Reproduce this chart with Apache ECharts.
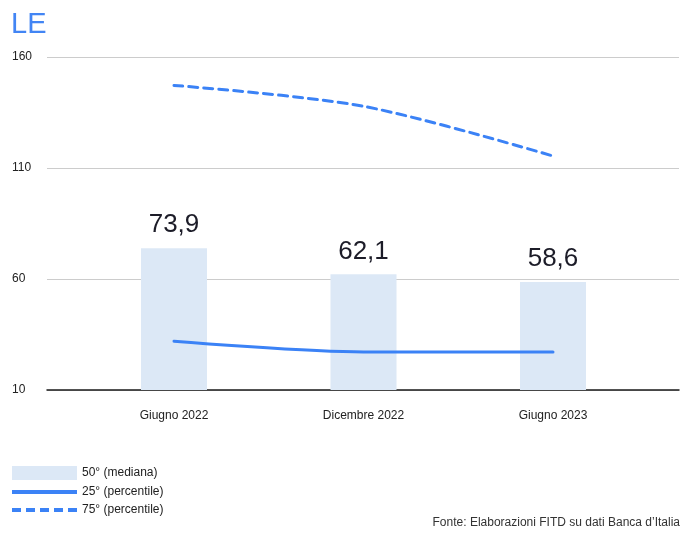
<!DOCTYPE html>
<html>
<head>
<meta charset="utf-8">
<script src="https://cdn.jsdelivr.net/npm/echarts@6/dist/echarts.min.js"></script>
<style>
html,body{margin:0;padding:0;background:#fff;}
#chart{width:683px;height:533px;}
</style>
</head>
<body>
<div id="chart"></div>
<script>
const categories = ['Giugno 2022', 'Dicembre 2022', 'Giugno 2023'];
const median50 = [73.9, 62.1, 58.6];
const perc25 = [32.0, 27.1, 27.1];
const perc75 = [147.2, 137.8, 115.4];
const yTicks = [10, 60, 110, 160];

const FONT = '"Liberation Sans", Arial, Helvetica, sans-serif';
const BLUE = '#3b82f6';

const chart = echarts.init(document.getElementById('chart'));
chart.setOption({
  animation: false,
  textStyle: { fontFamily: FONT },
  title: {
    text: 'LE', left: 11, top: 10, padding: 0,
    textStyle: { fontFamily: FONT, fontSize: 29, fontWeight: 'normal', color: '#4285f4' }
  },
  grid: [
    { left: 47, right: 4, top: 57, bottom: 143 },
    { left: 79.25, right: 35.25, top: 57, bottom: 143 }
  ],
  xAxis: [
    { type: 'category', gridIndex: 0, data: categories,
      axisLine: { show: true, lineStyle: { color: '#1a1a1a', width: 1.5 } },
      axisTick: { show: false }, axisLabel: { show: false }, splitLine: { show: false } },
    { type: 'category', gridIndex: 1, data: categories,
      axisLine: { show: false }, axisTick: { show: false },
      axisLabel: { color: '#222', fontSize: 12, margin: 20, fontFamily: FONT } }
  ],
  yAxis: [
    { type: 'value', gridIndex: 0, min: yTicks[0], max: yTicks[yTicks.length - 1], interval: 50,
      axisLine: { show: false }, axisTick: { show: false },
      axisLabel: { color: '#222', fontSize: 12, align: 'left', margin: 35, fontFamily: FONT },
      splitLine: { lineStyle: { color: '#cccccc', width: 1 } } },
    { type: 'value', gridIndex: 1, min: yTicks[0], max: yTicks[yTicks.length - 1], interval: 50,
      show: false }
  ],
  legend: {
    orient: 'vertical', left: 10, top: 466, padding: 0, itemWidth: 65, itemHeight: 14, itemGap: 6,
    textStyle: { color: '#222', fontSize: 12, fontFamily: FONT },
    data: [
      { name: '50° (mediana)', icon: 'rect' },
      { name: '25° (percentile)', itemStyle: { opacity: 0 }, lineStyle: { width: 4, cap: 'butt' } },
      { name: '75° (percentile)', itemStyle: { opacity: 0 }, lineStyle: { width: 4, type: [9, 5], cap: 'butt' } }
    ]
  },
  graphic: [{
    type: 'text', right: 3, top: 517,
    style: { text: 'Fonte: Elaborazioni FITD su dati Banca d’Italia', fill: '#333', font: '12px ' + FONT }
  }],
  series: [
    { name: '50° (mediana)', type: 'bar', xAxisIndex: 1, yAxisIndex: 1, data: median50,
      barWidth: 66, itemStyle: { color: '#dce8f6' },
      label: { show: true, position: 'top', distance: 10, fontSize: 26, color: '#1c1c28', fontFamily: FONT,
        formatter: p => String(p.value.toFixed(1)).replace('.', ',') } },
    { name: '25° (percentile)', type: 'line', xAxisIndex: 1, yAxisIndex: 1, data: perc25,
      smooth: 0.3, symbol: 'none',
      lineStyle: { color: BLUE, width: 3, cap: 'round' }, itemStyle: { color: BLUE, opacity: 0 } },
    { name: '75° (percentile)', type: 'line', xAxisIndex: 1, yAxisIndex: 1, data: perc75,
      smooth: 0.3, symbol: 'none',
      lineStyle: { color: BLUE, width: 3, type: [9, 6], cap: 'round' }, itemStyle: { color: BLUE, opacity: 0 } }
  ]
});
</script>
</body>
</html>
